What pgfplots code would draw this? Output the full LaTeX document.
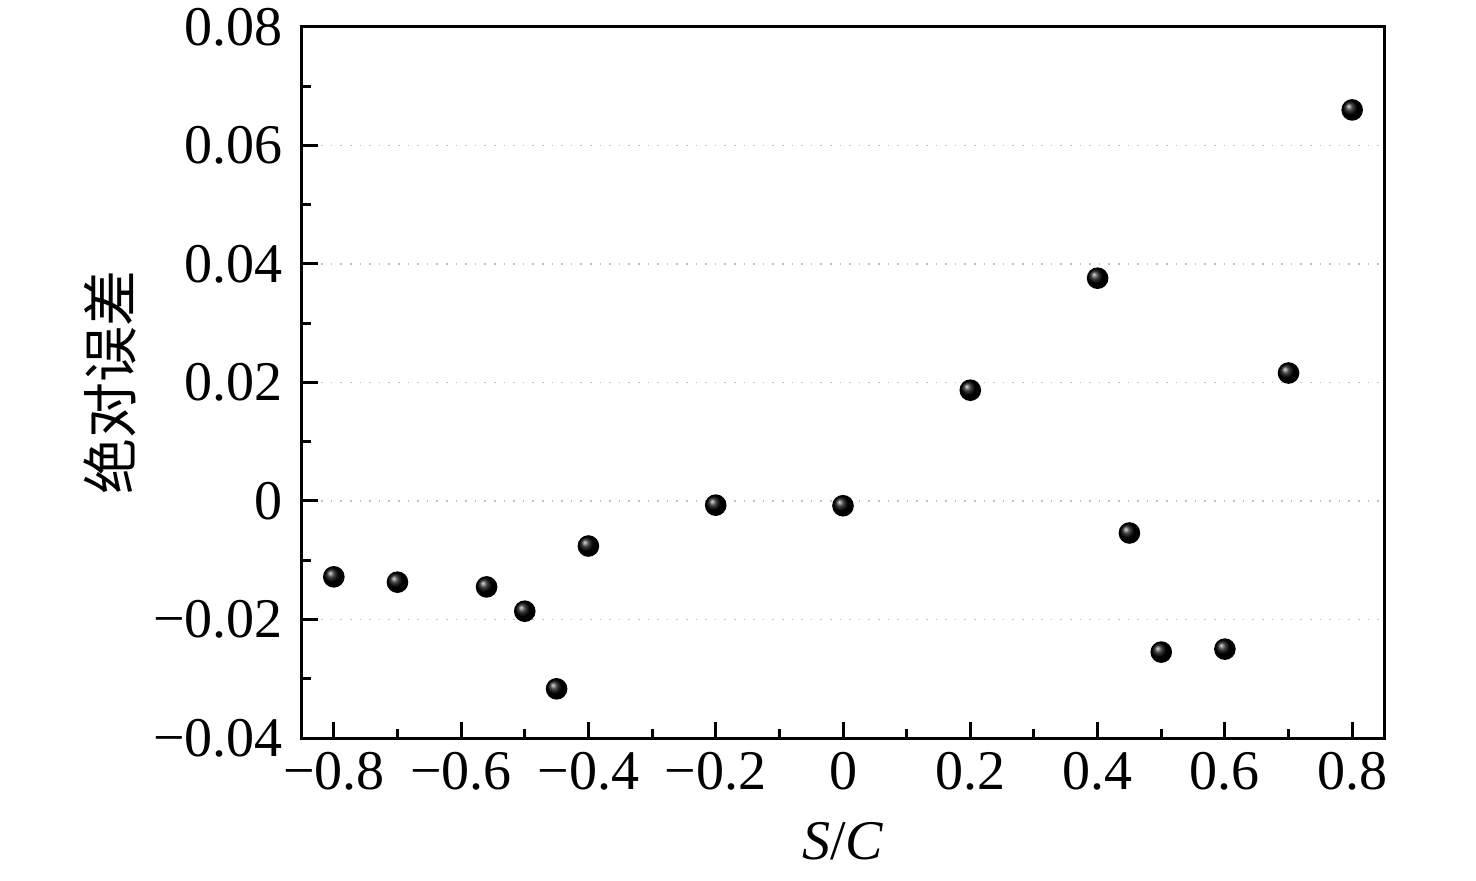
\documentclass[border=0pt]{standalone}
\usepackage{fontspec}
\setmainfont{Liberation Serif}
\newfontfamily\cjk{Noto Sans CJK SC}
\usepackage{pgfplots}
\pgfplotsset{compat=1.18}
\begin{document}
\begin{tikzpicture}
\begin{axis}[
  scale only axis, width=270.5pt, height=177.75pt,
  at={(0,0)}, anchor=south west,
  xmin=-0.85, xmax=0.85, ymin=-0.04, ymax=0.08,
  scaled ticks=false,
  axis line style={line width=0.75pt},
  tick align=inside, tick pos=left,
  xtick={-0.8,-0.6,-0.4,-0.2,0,0.2,0.4,0.6,0.8},
  xticklabels={−0.8,−0.6,−0.4,−0.2,0,0.2,0.4,0.6,0.8},
  minor x tick num=1,
  ytick={-0.04,-0.02,0,0.02,0.04,0.06,0.08},
  yticklabels={−0.04,−0.02,0,0.02,0.04,0.06,0.08},
  minor y tick num=1,
  major tick length=4pt, minor tick length=2.25pt,
  every tick/.style={black, line width=0.75pt},
  ymajorgrids, grid style={dotted, gray!50, line width=0.4pt},
  ticklabel style={font=\fontsize{14}{16}\selectfont},
  label style={font=\fontsize{14}{16}\selectfont},
  yticklabel shift=1.25pt,
  xlabel shift=1.25pt,
  ylabel shift=-2.5pt,
  xlabel={\textit{S}/\textit{C}},
  ylabel={\cjk 绝对误差},
]
\addplot[only marks, mark=ball, mark size=2.5pt, ball color=black] coordinates {
(-0.8,-0.0128)
(-0.7,-0.0137)
(-0.56,-0.0145)
(-0.5,-0.0186)
(-0.45,-0.0317)
(-0.4,-0.0076)
(-0.2,-0.0007)
(0,-0.0008)
(0.2,0.0187)
(0.4,0.0376)
(0.45,-0.0054)
(0.5,-0.0255)
(0.6,-0.0250)
(0.7,0.0216)
(0.8,0.0660)
};
\end{axis}
\pgfresetboundingbox
\path (-75.5pt,-35.5pt) rectangle (293.5pt,184.5pt);
\end{tikzpicture}
\end{document}
